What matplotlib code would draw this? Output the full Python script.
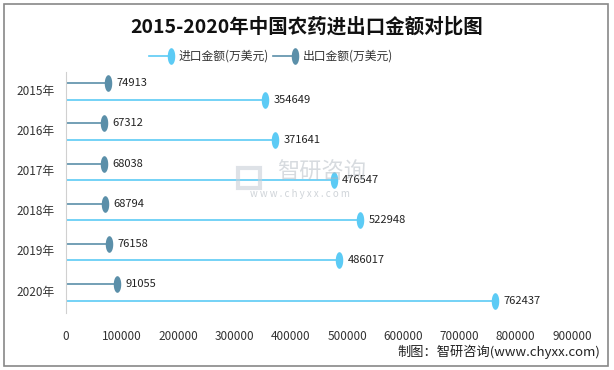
import matplotlib.pyplot as plt
from matplotlib.path import Path
from matplotlib.patches import Rectangle
from matplotlib.lines import Line2D
import numpy as np

plt.rcParams['font.family'] = ['Noto Sans CJK SC', 'DejaVu Sans']

years = ['2015年', '2016年', '2017年', '2018年', '2019年', '2020年']
import_vals = [354649, 371641, 476547, 522948, 486017, 762437]
export_vals = [74913, 67312, 68038, 68794, 76158, 91055]
xticks = [0, 100000, 200000, 300000, 400000, 500000, 600000, 700000, 800000, 900000]
legend_labels = ['进口金额(万美元)', '出口金额(万美元)']

IMP_COLOR = '#5ccbf5'
EXP_COLOR = '#5b8fa9'

# tall narrow ellipse marker
t = np.linspace(0, 2 * np.pi, 40)
ellipse = Path(np.column_stack([0.45 * np.cos(t), np.sin(t)]))

fig = plt.figure(figsize=(6.14, 3.70), dpi=100)
ax = fig.add_axes([66 / 614, 1 - 313 / 370, (572 - 66) / 614, (313 - 72) / 370])

y = np.arange(len(years))
for i in range(len(years)):
    ye = y[i] - 0.22
    yi = y[i] + 0.19
    ax.plot([0, export_vals[i]], [ye, ye], color=EXP_COLOR, lw=1.2)
    ax.plot(export_vals[i], ye, marker=ellipse, ms=12, color=EXP_COLOR, mec='none')
    ax.annotate(str(export_vals[i]), (export_vals[i], ye), xytext=(6, 0),
                textcoords='offset points', va='center', ha='left', fontsize=8, color='#222222')
    ax.plot([0, import_vals[i]], [yi, yi], color=IMP_COLOR, lw=1.2)
    ax.plot(import_vals[i], yi, marker=ellipse, ms=12, color=IMP_COLOR, mec='none')
    ax.annotate(str(import_vals[i]), (import_vals[i], yi), xytext=(6, 0),
                textcoords='offset points', va='center', ha='left', fontsize=8, color='#222222',
                zorder=5)

ax.set_xlim(0, 900000)
ax.set_ylim(len(years) - 0.5, -0.5)
ax.set_yticks(y - 0.06)
ax.set_yticklabels(years, fontsize=8.5, color='#333333')
ax.set_xticks(xticks)
ax.set_xticklabels([str(v) for v in xticks], fontsize=8.5, color='#333333')
ax.tick_params(axis='both', length=0)
ax.tick_params(axis='x', pad=12)
ax.tick_params(axis='y', pad=8)
for s in ['top', 'right', 'bottom']:
    ax.spines[s].set_visible(False)
ax.spines['left'].set_color('#d0d0d0')

# legend, drawn by hand (line with marker at its right end)
ly = 1 - 56 / 370
for (x0, x1, col, lab) in [(149, 171, IMP_COLOR, legend_labels[0]),
                           (273, 295, EXP_COLOR, legend_labels[1])]:
    fig.add_artist(Line2D([x0 / 614, x1 / 614], [ly, ly], transform=fig.transFigure,
                          color=col, lw=1.2))
    fig.add_artist(Line2D([x1 / 614], [ly], transform=fig.transFigure, marker=ellipse,
                          ms=12, color=col, mec='none', ls='none'))
    fig.text((x1 + 8) / 614, ly, lab, ha='left', va='center', fontsize=8.5, color='#333333')

fig.text(0.5, 1 - 27 / 370, '2015-2020年中国农药进出口金额对比图', ha='center', va='center',
         fontsize=14, fontweight='bold', color='#111111')

# watermark
fig.add_artist(Rectangle((238 / 614, 1 - 188 / 370), 22 / 614, 20 / 370,
                         transform=fig.transFigure, fill=False, edgecolor='#c8d0d8',
                         lw=3, alpha=0.6))
fig.text(322 / 614, 1 - 172 / 370, '智研咨询', ha='center', va='center', fontsize=16,
         color='#b0b8c0', alpha=0.5)
fig.text(300 / 614, 1 - 194 / 370, 'w w w . c h y x x . c o m', ha='center', va='center',
         fontsize=7, color='#b0b8c0', alpha=0.6)

fig.text(600 / 614, 1 - 352 / 370, '制图：智研咨询(www.chyxx.com)', ha='right', va='center',
         fontsize=9.5, color='#222222')

fig.patches.append(Rectangle((4 / 614, 4 / 370), 604 / 614, 362 / 370, transform=fig.transFigure,
                             fill=False, edgecolor='#888888', lw=1.2))

fig.savefig('out.png', dpi=100)
